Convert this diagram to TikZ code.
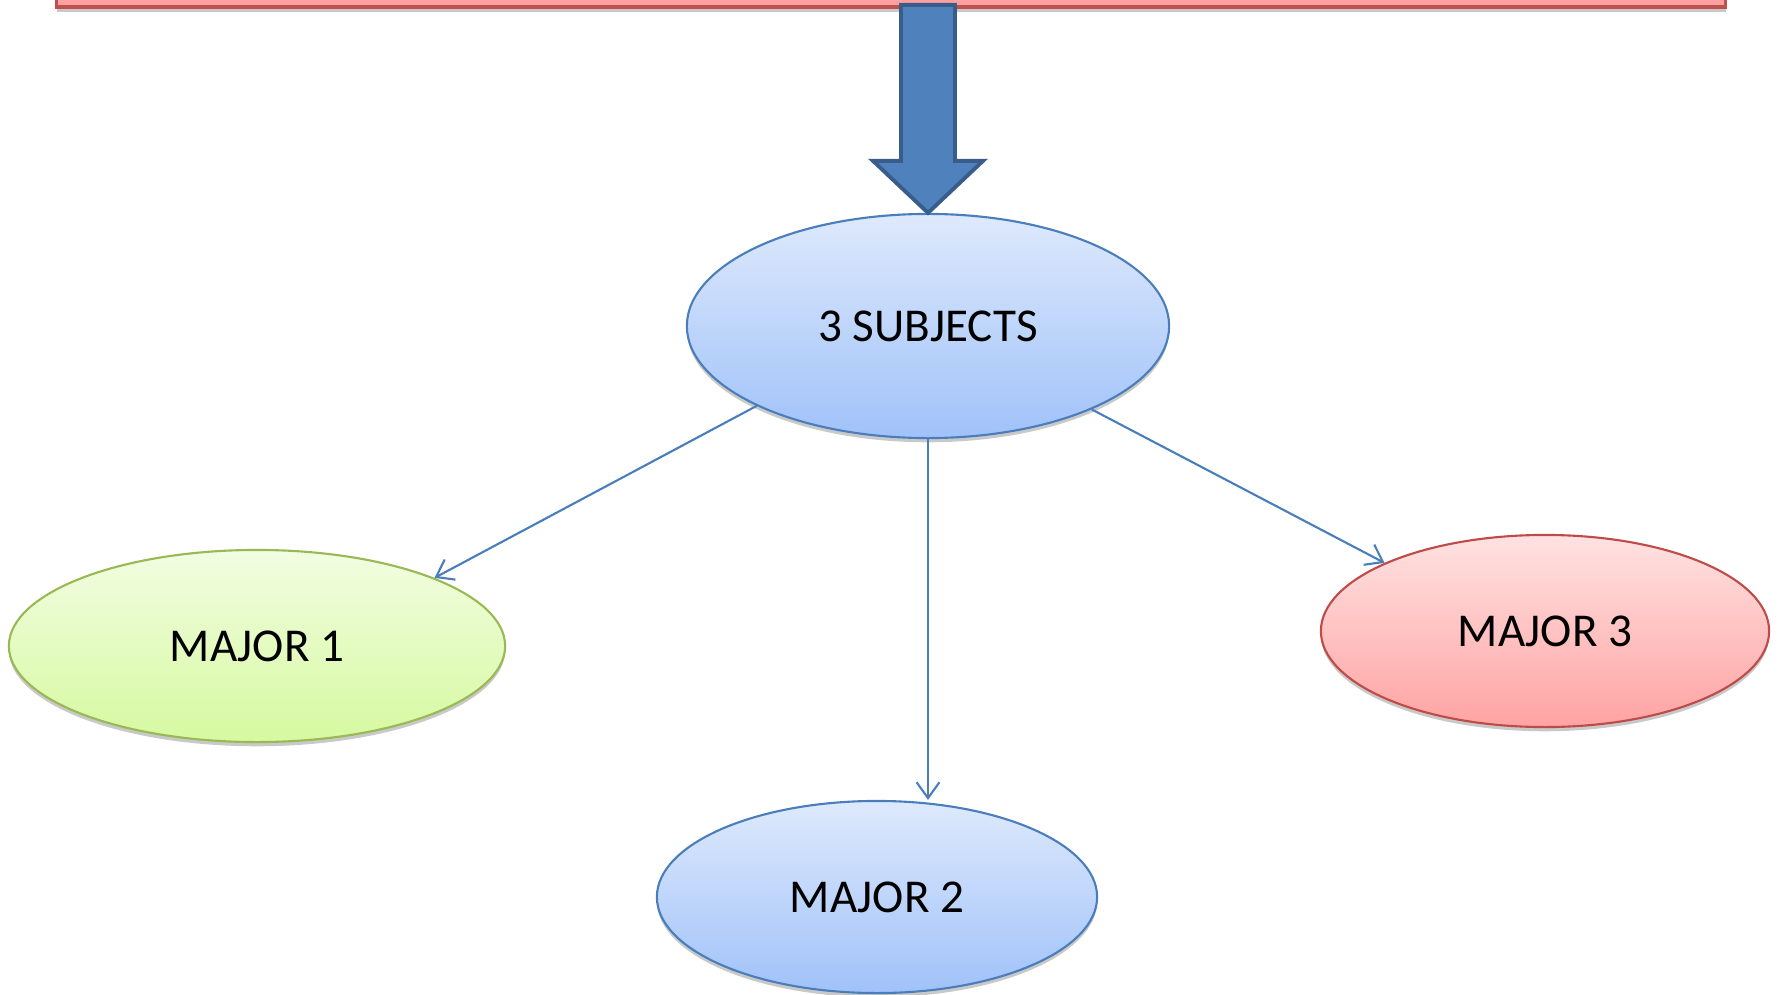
\documentclass[tikz,border=0pt]{standalone}
\usepackage{fontspec}
\setmainfont{Carlito}
\usetikzlibrary{positioning}
\usetikzlibrary{calc}
\usetikzlibrary{arrows.meta,shadows}

\definecolor{lineblue}{RGB}{74,126,187}
\definecolor{arrowfill}{RGB}{79,129,189}
\definecolor{arrowline}{RGB}{56,93,138}
\definecolor{bannerfill}{RGB}{255,160,160}
\definecolor{bannerline}{RGB}{192,80,77}
\definecolor{greenline}{RGB}{152,185,84}
\definecolor{redline}{RGB}{190,75,72}

\tikzset{
  oval/.style={ellipse, draw, line width=0.6pt, inner sep=0pt,
    font=\fontsize{13.4pt}{16pt}\selectfont,
    drop shadow={shadow xshift=0pt, shadow yshift=-1.2pt, opacity=0.3, fill=black!70}},
  blueoval/.style={oval, draw=lineblue, top color={rgb,255:red,222;green,233;blue,252}, bottom color={rgb,255:red,160;green,194;blue,249}},
  greenoval/.style={oval, draw=greenline, top color={rgb,255:red,242;green,253;blue,226}, bottom color={rgb,255:red,214;green,249;blue,160}},
  redoval/.style={oval, draw=redline, top color={rgb,255:red,255;green,226;blue,226}, bottom color={rgb,255:red,255;green,163;blue,163}},
  link/.style={draw=lineblue, line width=0.6pt, -{Straight Barb[length=4.5pt,width=6.5pt]}},
  bigarrow/.style={fill=arrowfill, draw=arrowline, line width=1.1pt, line join=miter}
}

\usetikzlibrary{shapes.geometric}

\begin{document}
\begin{tikzpicture}[x=0.01cm, y=-0.01cm]
  \useasboundingbox (0,0) rectangle (1779,994);
  \node[draw=bannerline, fill=bannerfill, line width=1pt, minimum width=16.68cm, minimum height=0.4cm, inner sep=0pt,
    drop shadow={shadow xshift=0pt, shadow yshift=-1.5pt, opacity=0.3, fill=black!70}] (t) at (891,-13) {};

  \node[blueoval, minimum width=4.82cm, minimum height=2.24cm] (s) at (928,326) {3 SUBJECTS};
  \node[greenoval, minimum width=4.96cm, minimum height=1.92cm] (m1) at (257,646) {MAJOR 1};
  \node[blueoval, minimum width=4.40cm, minimum height=1.92cm] (m2) at (877,897) {MAJOR 2};
  \node[redoval, minimum width=4.48cm, minimum height=1.92cm] (m3) at (1545,631) {MAJOR 3};

  \draw[link] (s.205) -- (m1.21);
  \draw[link] (s.south) -- (s.south |- m2.north);
  \draw[link] (s.333) -- (m3.157);

  \draw[bigarrow] (s.north) -- ++(-55,-52) -- ++(28,0) -- ++(0,-156) -- ++(54,0) -- ++(0,156) -- ++(28,0) -- cycle;
\end{tikzpicture}
\end{document}
